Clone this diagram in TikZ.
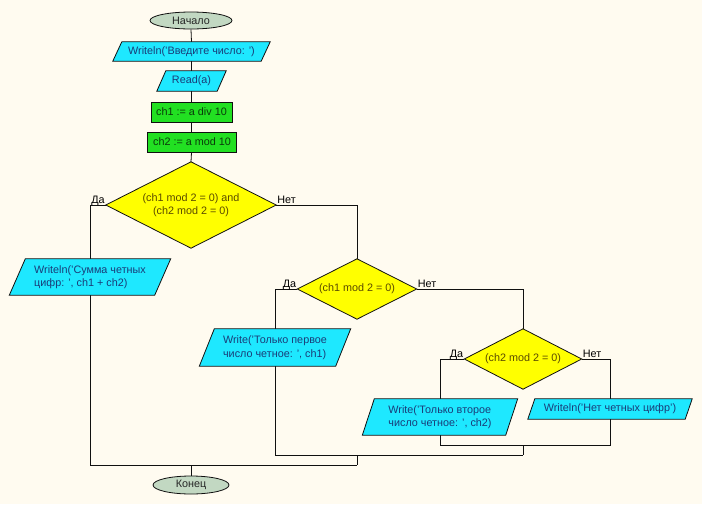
\documentclass[tikz,border=0pt]{standalone}
\usepackage{fontspec}
\setmainfont{Liberation Sans}
\usetikzlibrary{shapes.geometric,backgrounds}
\definecolor{bgc}{HTML}{FFFBF0}
\definecolor{cyanf}{HTML}{1EE8FF}
\definecolor{yellowf}{HTML}{FFFF00}
\definecolor{greenf}{HTML}{22E022}
\definecolor{ovalf}{HTML}{C2D8C2}
\definecolor{linec}{HTML}{101010}
\definecolor{cyant}{HTML}{1A3C78}
\definecolor{greent}{HTML}{0A3A0A}
\definecolor{yellowt}{HTML}{5A4A00}
\newcommand\myparaback[2]{%
  \fill[cyanf, draw=linec, line width=0.8pt]
    ([xshift=#2/2]#1.north west) -- ([xshift=#2/2]#1.north east) --
    ([xshift=-#2/2]#1.south east) -- ([xshift=-#2/2]#1.south west) -- cycle;}
\newcommand\mydiamback[1]{%
  \fill[yellowf, draw=linec, line width=0.8pt]
    (#1.north) -- (#1.east) -- (#1.south) -- (#1.west) -- cycle;}
\begin{document}
\begin{tikzpicture}[x=1pt, y=-1pt,
  every node/.style={font=\fontsize{10.8}{13.5}\selectfont},
  oval/.style={ellipse, draw=linec, fill=ovalf, line width=0.8pt, inner sep=0pt, text=black!85},
  paranode/.style={rectangle, inner sep=0pt, align=left, text=cyant},
  procbox/.style={rectangle, draw=linec, fill=greenf, line width=0.8pt, inner sep=0pt, text=greent},
  decnode/.style={rectangle, inner sep=0pt, align=center, text=yellowt},
  lbl/.style={inner sep=1pt, text=black},
  conn/.style={draw=linec, line width=0.8pt}]
\useasboundingbox (0,0) rectangle (702,504);

% nodes
\node[oval, minimum width=82pt, minimum height=17pt] (start) at (191,20.5) {Начало};
\node[paranode, minimum width=148pt, minimum height=19pt] (w1) at (191.5,51.5) {Writeln('Введите число: ')};
\node[paranode, minimum width=60pt, minimum height=20pt] (rd) at (191.5,81) {Read(a)};
\node[procbox, minimum width=81pt, minimum height=20pt] (c1) at (191.5,112) {ch1 := a div 10};
\node[procbox, minimum width=89pt, minimum height=20pt] (c2) at (192,142) {ch2 := a mod 10};
\node[decnode, minimum width=170pt, minimum height=86pt] (d1) at (191,205) {(ch1 mod 2 = 0) and\\(ch2 mod 2 = 0)};
\node[paranode, minimum width=145pt, minimum height=36pt] (sum) at (90,277) {Writeln('Сумма четных\\цифр: ', ch1 + ch2)};
\node[decnode, minimum width=119pt, minimum height=60pt] (d2) at (357,289) {(ch1 mod 2 = 0)};
\node[paranode, minimum width=136pt, minimum height=37pt] (wr1) at (275,347.5) {Write('Только первое\\число четное: ', ch1)};
\node[decnode, minimum width=117pt, minimum height=60pt] (d3) at (523,359) {(ch2 mod 2 = 0)};
\node[paranode, minimum width=143pt, minimum height=36pt] (wr2) at (440,417) {Write('Только второе\\число четное: ', ch2)};
\node[paranode, minimum width=157pt, minimum height=20pt] (wr3) at (610,409) {Writeln('Нет четных цифр')};
\node[oval, minimum width=76pt, minimum height=18pt] (fin) at (191,485) {Конец};

% labels
\node[lbl, anchor=base east] (l1) at ([yshift=2pt]d1.west) {Да};
\node[lbl, anchor=base west] (l2) at ([yshift=2pt]d1.east) {Нет};
\node[lbl, anchor=base east] (l3) at ([yshift=2pt]d2.west) {Да};
\node[lbl, anchor=base west] (l4) at ([yshift=2pt]d2.east) {Нет};
\node[lbl, anchor=base east] (l5) at ([yshift=2pt]d3.west) {Да};
\node[lbl, anchor=base west] (l6) at ([yshift=2pt]d3.east) {Нет};

% junctions
\coordinate (j3r) at (610,445);
\coordinate (j3) at (523,445);
\coordinate (j2r) at (523,455);
\coordinate (j2) at (357,455);
\coordinate (j1r) at (357,465);
\coordinate (j1) at (191,465);

\begin{scope}[on background layer]
  \fill[bgc] (0,0) rectangle (702,504);
  % connectors
  \draw[conn] (start.south) -- (w1.north);
  \draw[conn] (w1.south) -- (rd.north);
  \draw[conn] (rd.south) -- (c1.north);
  \draw[conn] (c1.south) -- (c2.north -| c1.south);
  \draw[conn] (c2.south -| c1.south) -- (d1.north);
  \draw[conn] (d1.west) -| (sum.north);
  \draw[conn] (d1.east) -| (d2.north);
  \draw[conn] (d2.west) -| (wr1.north);
  \draw[conn] (d2.east) -| (d3.north);
  \draw[conn] (d3.west) -| (wr2.north);
  \draw[conn] (d3.east) -| (wr3.north);
  \draw[conn] (wr2.south) |- (j3r) -- (wr3.south);
  \draw[conn] (j3) -- (j2r);
  \draw[conn] (wr1.south) |- (j2r);
  \draw[conn] (j2) -- (j1r);
  \draw[conn] (sum.south) |- (j1r);
  \draw[conn] (j1) -- (fin.north);
  % shapes
  \myparaback{w1}{9}
  \myparaback{rd}{9}
  \myparaback{sum}{16}
  \myparaback{wr1}{15}
  \myparaback{wr2}{12}
  \myparaback{wr3}{7}
  \mydiamback{d1}
  \mydiamback{d2}
  \mydiamback{d3}
\end{scope}
\end{tikzpicture}
\end{document}
